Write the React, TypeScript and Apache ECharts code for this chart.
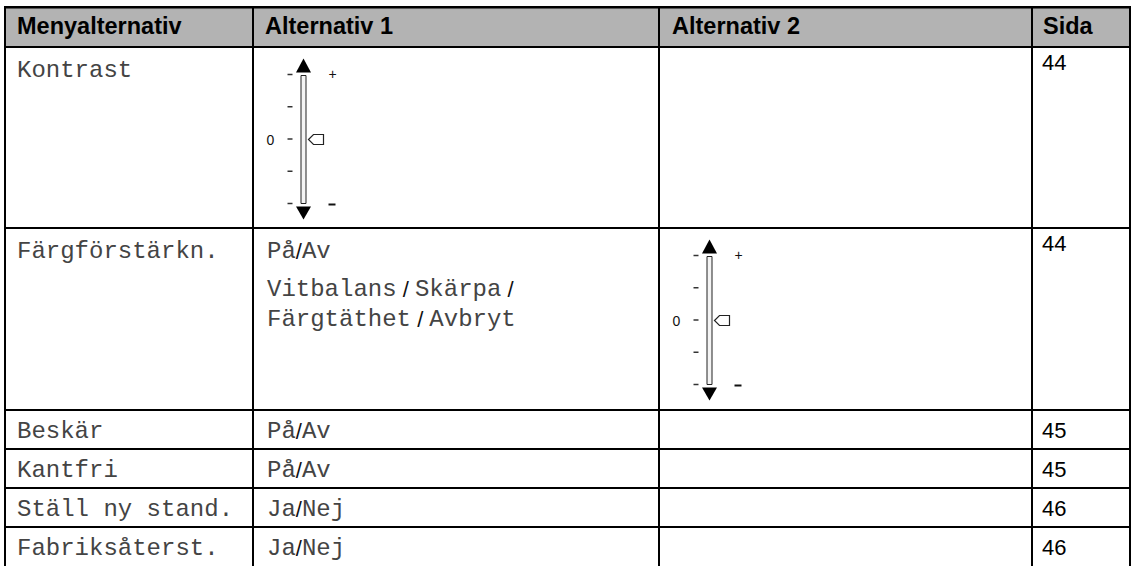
import React, { useEffect, useRef } from "react";
import * as echarts from "echarts";

// ---- table content ----
const headers = ["Menyalternativ", "Alternativ 1", "Alternativ 2", "Sida"];
const menuItems = ["Kontrast", "Färgförstärkn.", "Beskär", "Kantfri", "Ställ ny stand.", "Fabriksåterst."];
// paragraphs of lines per row, column "Alternativ 1"
const alt1: string[][][] = [
  [],
  [["På/Av"], ["Vitbalans / Skärpa /", "Färgtäthet / Avbryt"]],
  [["På/Av"]],
  [["På/Av"]],
  [["Ja/Nej"]],
  [["Ja/Nej"]],
];
const alt2: string[][][] = [[], [], [], [], [], []];
const sliderCells = [
  { row: 0, col: 1 },
  { row: 1, col: 2 },
];
const sliderTopLabel = "+";
const sliderMidLabel = "0";
const pages = ["44", "44", "45", "45", "46", "46"];

// ---- layout ----
const W = 1134;
const H = 566;
const colX = [5, 253, 659, 1032, 1130];
const rowY = [7, 47, 228, 410, 449, 488, 527, 566];
const MONO = '"Courier New", "Liberation Mono", monospace';
const SANS = 'Arial, "Liberation Sans", Helvetica, sans-serif';
const MONO_SIZE = 24;
const TEXT_COLOR = "#444";

function richText(s: string) {
  return s
    .split(/(\s*\/\s*)/)
    .filter((p) => p !== "")
    .map((p) => (p.includes("/") ? `{s|${p}}` : `{m|${p}}`))
    .join("");
}

const richStyles = {
  m: { fontFamily: MONO, fontSize: MONO_SIZE, fill: TEXT_COLOR },
  s: { fontFamily: SANS, fontSize: 22, fill: "#111" },
};

function slider(cx: number, top: number): any[] {
  const els: any[] = [];
  els.push({
    type: "polygon",
    shape: { points: [[cx, top], [cx - 7.5, top + 14], [cx + 7.5, top + 14]] },
    style: { fill: "#000" },
  });
  els.push({
    type: "rect",
    shape: { x: cx - 2.5, y: top + 17, width: 5, height: 128 },
    style: { fill: "#f4f4f4", stroke: "#222", lineWidth: 1 },
  });
  els.push({
    type: "polygon",
    shape: { points: [[cx - 7.5, top + 148], [cx + 7.5, top + 148], [cx, top + 161]] },
    style: { fill: "#000" },
  });
  for (let i = 0; i < 5; i++) {
    const y = top + 16 + i * 32.25;
    els.push({
      type: "line",
      shape: { x1: cx - 16, y1: y, x2: cx - 11, y2: y },
      style: { stroke: "#333", lineWidth: 1.5 },
    });
  }
  els.push({
    type: "text",
    style: {
      text: sliderMidLabel, x: cx - 33, y: top + 81, fontFamily: SANS, fontSize: 14,
      fill: "#111", align: "center", verticalAlign: "middle",
    },
  });
  els.push({
    type: "text",
    style: {
      text: sliderTopLabel, x: cx + 29, y: top + 15, fontFamily: SANS, fontSize: 14,
      fill: "#111", align: "center", verticalAlign: "middle",
    },
  });
  els.push({
    type: "line",
    shape: { x1: cx + 25, y1: top + 146, x2: cx + 32, y2: top + 146 },
    style: { stroke: "#111", lineWidth: 2 },
  });
  els.push({
    type: "polygon",
    shape: {
      points: [[cx + 5, top + 81], [cx + 10, top + 76], [cx + 20, top + 76], [cx + 20, top + 86], [cx + 10, top + 86]],
    },
    style: { fill: "#fff", stroke: "#222", lineWidth: 1.2 },
  });
  return els;
}

function buildElements(): any[] {
  const els: any[] = [];
  els.push({ type: "rect", shape: { x: 0, y: 0, width: W, height: H }, style: { fill: "#fff" } });
  els.push({
    type: "rect",
    shape: { x: colX[0], y: rowY[0], width: colX[4] - colX[0], height: rowY[1] - rowY[0] },
    style: { fill: "#b3b3b3" },
  });
  const headerX = [17, 265, 672, 1043];
  headers.forEach((h, i) => {
    els.push({
      type: "text",
      style: {
        text: h, x: headerX[i], y: 26, fontFamily: SANS, fontSize: 23.5, fontWeight: "bold",
        fill: "#000", align: "left", verticalAlign: "middle",
      },
    });
  });
  menuItems.forEach((item, r) => {
    const top = rowY[r + 1];
    const bottom = rowY[r + 2];
    const tall = bottom - top > 60;
    const firstY = tall ? top + 23 : (top + bottom) / 2 + 2;
    els.push({
      type: "text",
      style: {
        text: item, x: 17, y: firstY, fontFamily: MONO, fontSize: MONO_SIZE,
        fill: TEXT_COLOR, align: "left", verticalAlign: "middle",
      },
    });
    [alt1, alt2].forEach((alt, k) => {
      const paras = alt[r];
      let y = firstY;
      paras.forEach((para, pi) => {
        if (pi > 0) y += 38;
        para.forEach((line, li) => {
          if (li > 0) y += 30;
          els.push({
            type: "text",
            style: {
              text: richText(line), x: colX[k + 1] + 14, y, align: "left", verticalAlign: "middle",
              rich: richStyles,
            },
          });
        });
      });
    });
    els.push({
      type: "text",
      style: {
        text: pages[r], x: 1042, y: tall ? top + 15 : (top + bottom) / 2 + 1,
        fontFamily: SANS, fontSize: 22, fill: "#000", align: "left", verticalAlign: "middle",
      },
    });
  });
  sliderCells.forEach(({ row, col }) => {
    const cx = colX[col] + 50.5;
    const top = rowY[row + 1] + 11.5;
    els.push(...slider(cx, top));
  });
  for (let i = 0; i < rowY.length - 1; i++) {
    const y = rowY[i];
    els.push({
      type: "rect",
      shape: { x: colX[0] - 1, y: y - 1, width: colX[4] - colX[0] + 2, height: i === 0 ? 2.5 : 2 },
      style: { fill: "#000" },
    });
  }
  colX.forEach((x) => {
    els.push({
      type: "rect",
      shape: { x: x - 1, y: rowY[0] - 1, width: 2, height: H - rowY[0] + 1 },
      style: { fill: "#000" },
    });
  });
  return els;
}

export default function App() {
  const ref = useRef<HTMLDivElement>(null);
  useEffect(() => {
    if (!ref.current) return;
    const chart = echarts.init(ref.current, undefined, { renderer: "svg", width: W, height: H });
    chart.setOption({
      animation: false,
      graphic: { elements: buildElements() },
    });
    return () => chart.dispose();
  }, []);
  return (
    <div
      ref={ref}
      style={{ position: "fixed", left: 0, top: 0, width: W, height: H, background: "#fff" }}
    />
  );
}
